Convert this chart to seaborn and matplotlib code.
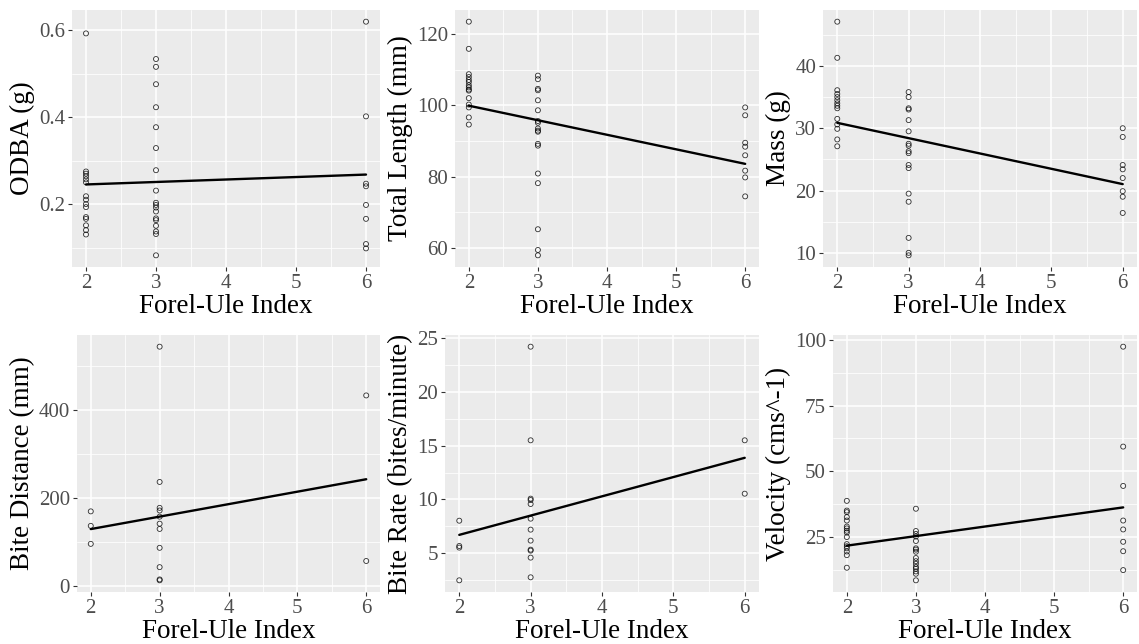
import numpy as np
import pandas as pd
import matplotlib
matplotlib.use("Agg")
import matplotlib.pyplot as plt
from matplotlib.ticker import MultipleLocator
import seaborn as sns

# ---------------- data ----------------
odba_x2 = [0.593, 0.275, 0.270, 0.264, 0.257, 0.250, 0.218, 0.210, 0.200, 0.193, 0.170, 0.166, 0.151, 0.140, 0.130]
odba_x3 = [0.534, 0.516, 0.476, 0.423, 0.377, 0.329, 0.278, 0.231, 0.203, 0.198, 0.192, 0.183, 0.167, 0.163, 0.150, 0.137, 0.131, 0.082]
odba_x6 = [0.620, 0.402, 0.247, 0.241, 0.198, 0.166, 0.108, 0.098]

tl_x2 = [123.4, 115.8, 108.7, 107.9, 107.1, 106.5, 105.6, 105.0, 104.4, 104.1, 102.0, 100.2, 99.4, 96.6, 94.6]
tl_x3 = [108.3, 107.3, 104.6, 104.2, 101.4, 98.6, 95.6, 95.1, 93.5, 92.9, 92.6, 89.2, 88.7, 80.9, 78.2, 65.3, 59.5, 58.0]
tl_x6 = [99.4, 97.2, 89.5, 88.4, 86.0, 81.7, 79.8, 74.5]

mass_x2 = [47.1, 41.3, 36.1, 35.5, 35.0, 34.5, 34.0, 33.6, 33.2, 31.5, 30.6, 29.9, 28.2, 27.1]
mass_x3 = [35.8, 35.0, 33.2, 33.0, 31.3, 29.5, 27.5, 27.2, 26.3, 26.0, 24.1, 23.6, 19.5, 18.2, 12.4, 10.0, 9.6]
mass_x6 = [30.0, 28.6, 24.1, 23.4, 22.0, 19.9, 19.0, 16.4]

bd_x2 = [169, 136, 95]
bd_x3 = [544, 236, 177, 171, 157, 141, 129, 86, 42, 14, 12]
bd_x6 = [433, 56]

br_x2 = [8.03, 5.68, 5.53, 2.49]
br_x3 = [24.2, 15.5, 10.08, 9.95, 9.58, 8.22, 7.20, 6.18, 5.34, 5.25, 4.60, 2.77]
br_x6 = [15.5, 10.54]

vel_x2 = [38.7, 35.0, 34.4, 32.5, 31.2, 28.9, 28.2, 27.3, 26.6, 24.9, 22.2, 21.4, 20.6, 19.4, 18.0, 13.2]
vel_x3 = [35.7, 27.2, 26.1, 25.1, 23.4, 20.6, 20.1, 19.3, 16.9, 15.7, 14.7, 13.5, 12.8, 11.8, 10.9, 8.4]
vel_x6 = [97.5, 59.4, 44.4, 31.2, 27.8, 23.1, 19.5, 12.3]

x_label = "Forel-Ule Index"
y_labels = ["ODBA (g)", "Total Length (mm)", "Mass (g)",
            "Bite Distance (mm)", "Bite Rate (bites/minute)", "Velocity (cms^-1)"]
y_majors = [0.2, 20, 10, 200, 5, 25]
y_fmt = ["{:.1f}", "{:.0f}", "{:.0f}", "{:.0f}", "{:.0f}", "{:.0f}"]

panels = [
    (odba_x2, odba_x3, odba_x6),
    (tl_x2, tl_x3, tl_x6),
    (mass_x2, mass_x3, mass_x6),
    (bd_x2, bd_x3, bd_x6),
    (br_x2, br_x3, br_x6),
    (vel_x2, vel_x3, vel_x6),
]

# ---------------- style ----------------
sns.set_style("darkgrid", {
    "axes.facecolor": "#EBEBEB",
    "grid.color": "white",
    "axes.edgecolor": "none",
})
plt.rcParams["font.family"] = ["Liberation Serif", "DejaVu Serif"]

W, H = 1139, 644
fig = plt.figure(figsize=(W / 100, H / 100), dpi=100)

# pixel boxes: left, top, right, bottom
boxes = [
    (72, 10, 380, 267), (455, 10, 759, 267), (823, 10, 1137, 267),
    (77, 335, 380, 592), (445, 335, 759, 592), (833, 335, 1137, 592),
]

for i, (grp, box) in enumerate(zip(panels, boxes)):
    l, t, r, b = box
    ax = fig.add_axes([l / W, 1 - b / H, (r - l) / W, (b - t) / H])
    xs = [2] * len(grp[0]) + [3] * len(grp[1]) + [6] * len(grp[2])
    ys = list(grp[0]) + list(grp[1]) + list(grp[2])
    df = pd.DataFrame({"x": xs, "y": ys})
    sns.regplot(data=df, x="x", y="y", ci=None, ax=ax, color="black",
                scatter_kws=dict(facecolors="none", edgecolors="black", s=13, linewidths=0.6),
                line_kws=dict(color="black", lw=1.7))
    ax.set_xlim(1.8, 6.2)
    ax.xaxis.set_major_locator(MultipleLocator(1))
    ax.xaxis.set_minor_locator(MultipleLocator(0.5))
    ax.yaxis.set_major_locator(MultipleLocator(y_majors[i]))
    ax.yaxis.set_minor_locator(MultipleLocator(y_majors[i] / 2))
    fmt = y_fmt[i]
    ax.yaxis.set_major_formatter(matplotlib.ticker.FuncFormatter(lambda v, p, f=fmt: f.format(v)))
    ax.grid(which="major", color="white", lw=1.1)
    ax.grid(which="minor", color="white", lw=0.55)
    ax.tick_params(which="major", length=3, width=0.8, color="#333333",
                   labelsize=15, labelcolor="#4D4D4D", pad=2, left=True, bottom=True)
    ax.tick_params(which="minor", length=0)
    ax.set_xlabel(x_label, fontsize=19.5, color="black", labelpad=1)
    ax.set_ylabel(y_labels[i], fontsize=19.5, color="black", labelpad=3)
    for s in ax.spines.values():
        s.set_visible(False)

fig.savefig("out.png", dpi=100)
